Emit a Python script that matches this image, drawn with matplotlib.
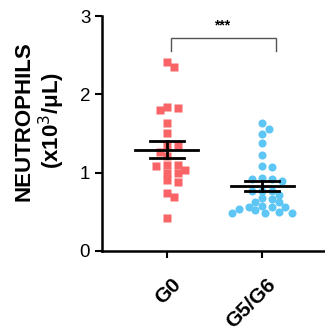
import matplotlib
matplotlib.use("Agg")
import matplotlib.pyplot as plt
import matplotlib.transforms as mtransforms
import numpy as np

plt.rcParams['font.family'] = ['Liberation Sans', 'DejaVu Sans']

groups = ["G0", "G5/G6"]
g0 = [2.41, 2.35, 1.80, 1.83, 1.84, 1.63, 1.51, 1.35, 1.35, 1.27, 1.21,
      1.10, 1.10, 1.08, 1.00, 1.04, 0.99, 0.90, 0.88, 0.74, 0.69, 0.42]
g56 = [1.63, 1.56, 1.49, 1.38, 1.23, 1.09, 1.07, 0.93, 0.92, 0.92, 0.89,
       0.77, 0.76, 0.77, 0.72, 0.66, 0.67, 0.63, 0.57, 0.56, 0.56, 0.56,
       0.62, 0.53, 0.50, 0.48, 0.49, 0.52, 0.49]
stars = "***"


def swarm(vals, sx, sy, diam, step):
    # simple beeswarm in pixel space, returns x offsets in data units
    order = np.argsort(vals)[::-1]
    placed = []
    xs = np.zeros(len(vals))
    for i in order:
        y = vals[i] * sy
        k = 0
        done = False
        while not done:
            cand = [0.0] if k == 0 else [k * step, -k * step]
            for c in cand:
                if all((c - px) ** 2 + (y - py) ** 2 >= diam ** 2 for px, py in placed):
                    xs[i] = c / sx
                    placed.append((c, y))
                    done = True
                    break
            k += 1
    return xs


fig = plt.figure(figsize=(3.25, 3.35), dpi=100)
ax = fig.add_axes([0.314, 0.251, 0.686, 0.701])
sx, sy = 95.0, 78.2

data = [np.array(g0), np.array(g56)]
styles = [dict(marker='s', color='#F96567', ms=5.4, d=7.6, step=3.6),
          dict(marker='o', color='#5DC6F4', ms=5.8, d=7.2, step=3.3)]
for i, (vals, st) in enumerate(zip(data, styles)):
    xs = swarm(vals, sx, sy, st['d'], st['step'])
    ax.plot(i + xs, vals, ls='none', marker=st['marker'], color=st['color'],
            ms=st['ms'], mec='none', zorder=2)
    m = vals.mean()
    sem = vals.std(ddof=1) / np.sqrt(len(vals))
    ax.plot([i - 0.33, i + 0.33], [m, m], color='black', lw=2, zorder=3)
    ax.plot([i, i], [m - sem, m + sem], color='black', lw=2, zorder=3)
    for yy in (m - sem, m + sem):
        ax.plot([i - 0.175, i + 0.175], [yy, yy], color='black', lw=2, zorder=3)

# significance bracket
ax.plot([0.04, 0.04, 1.15, 1.15], [2.56, 2.72, 2.72, 2.56], color='#555555', lw=1)
ax.text(0.58, 2.79, stars, ha='center', va='bottom', fontsize=10, fontweight='bold')

ax.set_xlim(-0.68, 1.66)
ax.set_ylim(0, 3)
ax.set_yticks([0, 1, 2, 3])
ax.set_xticks([0, 1])
ax.tick_params(axis='y', labelsize=13.5, width=1.5, length=5)
ax.tick_params(axis='x', width=1.5, length=5)
ax.set_xticklabels(groups, rotation=45, ha='right', va='center',
                   rotation_mode='anchor', fontsize=15, fontweight='bold')
# move the rotated labels down/right like the original
shift = mtransforms.ScaledTranslation(11 / 100, -19 / 100, fig.dpi_scale_trans)
for lab in ax.get_xticklabels():
    lab.set_transform(lab.get_transform() + shift)
for s in ['top', 'right']:
    ax.spines[s].set_visible(False)
for s in ['left', 'bottom']:
    ax.spines[s].set_linewidth(1.8)
ax.set_ylabel("NEUTROPHILS\n(x10$^3$/$\\mathregular{\\mu}$L)", fontsize=16,
              fontweight='bold', linespacing=1.1)
ax.yaxis.set_label_coords(-0.157, 0.553)

fig.savefig("out.png", dpi=100)
